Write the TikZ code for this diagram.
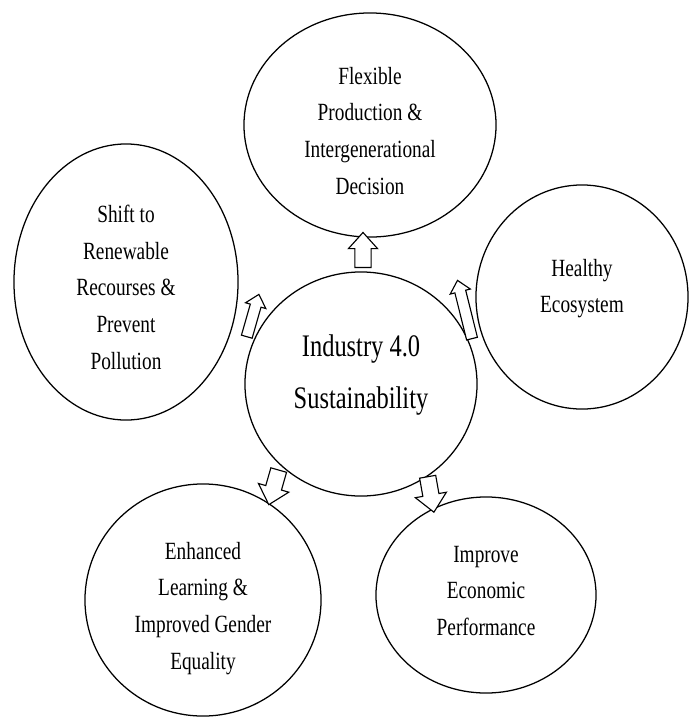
\documentclass[tikz,border=0pt]{standalone}
\usepackage{fontspec}
\setmainfont{Liberation Serif}[FakeStretch=0.78]
\usepackage{tikz}
\usetikzlibrary{shapes.geometric, shapes.arrows}

\begin{document}
\begin{tikzpicture}[x=0.025cm, y=-0.025cm,
  bubble/.style={draw, line width=0.9pt, ellipse, inner sep=0pt, align=center,
                 font=\fontsize{17.6}{26}\selectfont},
  blockarrow/.style={draw, fill=white, line width=0.8pt, single arrow,
                     inner xsep=0pt, single arrow tip angle=84}]

  \useasboundingbox (0,0) rectangle (692,718);

  % Central circle
  \node[bubble, minimum width=5.8cm, minimum height=5.6cm,
        font=\fontsize{22.3}{37}\selectfont]
        (hub) at (361,384) {Industry 4.0\\Sustainability\\[-20pt]};

  % Outer ellipses
  \node[bubble, minimum width=6.3cm, minimum height=5.6cm]
        (flex) at (370,125) {Flexible\\Production \&\\Intergenerational\\Decision\\[-34pt]};

  \node[bubble, minimum width=5.6cm, minimum height=6.9cm]
        (shift) at (126,282) {\\[-6pt]Shift to\\Renewable\\Recourses \&\\Prevent\\Pollution};

  \node[bubble, minimum width=5.3cm, minimum height=5.6cm]
        (eco) at (582,297) {Healthy\\Ecosystem\\[-10pt]};

  \node[bubble, minimum width=5.9cm, minimum height=5.8cm]
        (learn) at (203,600) {Enhanced\\Learning \&\\Improved Gender\\Equality\\[-34pt]};

  \node[bubble, minimum width=5.5cm, minimum height=4.9cm]
        (econ) at (486,595) {Improve\\Economic\\Performance\\[-20pt]};

  % Block arrows from the centre outwards
  \node[blockarrow, minimum height=0.875cm, inner ysep=0.19cm,
        single arrow head extend=0.16cm, rotate=90]
        (toflex) at (363,254.5) {};

  \node[blockarrow, minimum height=1.1cm, inner ysep=0.125cm,
        single arrow head extend=0.125cm, rotate=74]
        (toshift) at (252,318.5) {};

  \node[blockarrow, minimum height=1.5cm, inner ysep=0.125cm,
        single arrow head extend=0.12cm, rotate=104]
        (toeco) at (465.5,312.5) {};

  \node[blockarrow, minimum height=0.9cm, inner ysep=0.19cm,
        single arrow head extend=0.19cm, rotate=-106]
        (tolearn) at (275,483) {};

  \node[blockarrow, minimum height=0.9cm, inner ysep=0.19cm,
        single arrow head extend=0.19cm, rotate=-80]
        (toecon) at (430,490) {};

\end{tikzpicture}
\end{document}
